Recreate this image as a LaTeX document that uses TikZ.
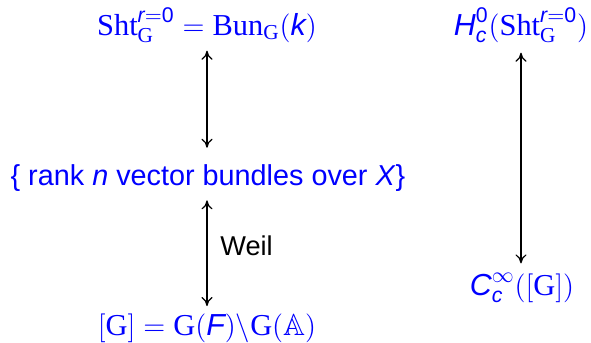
\documentclass[tikz,border=0pt]{standalone}
\usetikzlibrary{arrows.meta}
\usepackage{amsmath,amssymb}
\usepackage{fontspec}
\setmainfont{Liberation Sans}
\newfontfamily\serifrm{Liberation Serif}
\newcommand\rmm[1]{\text{\serifrm #1}}
\newcommand\vi[1]{\text{\itshape #1}}
\newcommand\sn[1]{\text{#1}}
\begin{document}
\begin{tikzpicture}[x=0.5pt,y=-0.5pt,
  lbl/.style={text=blue,anchor=base,inner sep=2pt,font=\fontsize{14.4}{17}\selectfont},
  mlbl/.style={lbl,font=\fontsize{15.2}{18}\selectfont},
  tip/.tip={Computer Modern Rightarrow[length=4.5pt,width=5.5pt]},
  conn/.style={tip-tip,line width=0.6pt,black}]
\path[use as bounding box] (0,0) rectangle (591,343);
\node[mlbl] (A) at (207,35) {$\rmm{Sht}^{\vi{r}=\sn{0}}_{\rmm{G}} = \rmm{Bun}_{\rmm{G}}(\vi{k})$};
\node[lbl] (B) at (208,185) {\{ rank \textit{n} vector bundles over \textit{X}\}};
\node[mlbl] (C) at (207,335) {$[\rmm{G}] = \rmm{G}(\vi{F})\backslash\rmm{G}(\mathbb{A})$};
\node[mlbl] (D) at (521,35) {$\vi{H}^{\sn{0}}_{\vi{c}}(\rmm{Sht}^{\vi{r}=\sn{0}}_{\rmm{G}})$};
\node[mlbl] (E) at (522,295) {$\vi{C}^{\infty}_{\vi{c}}([\rmm{G}])$};
\node[lbl,text=black,anchor=base west,font=\fontsize{13.6}{16}\selectfont] (W) at (216,255) {Weil};
\draw[conn,shorten <=2pt,shorten >=6pt] (A.south) -- (A.south |- B.north);
\draw[conn,shorten <=2.5pt,shorten >=1.5pt] (A.south |- B.south) -- (A.south |- C.north);
\draw[conn,shorten <=3pt,shorten >=2.5pt] (D.south) -- (D.south |- E.north);
\end{tikzpicture}
\end{document}
